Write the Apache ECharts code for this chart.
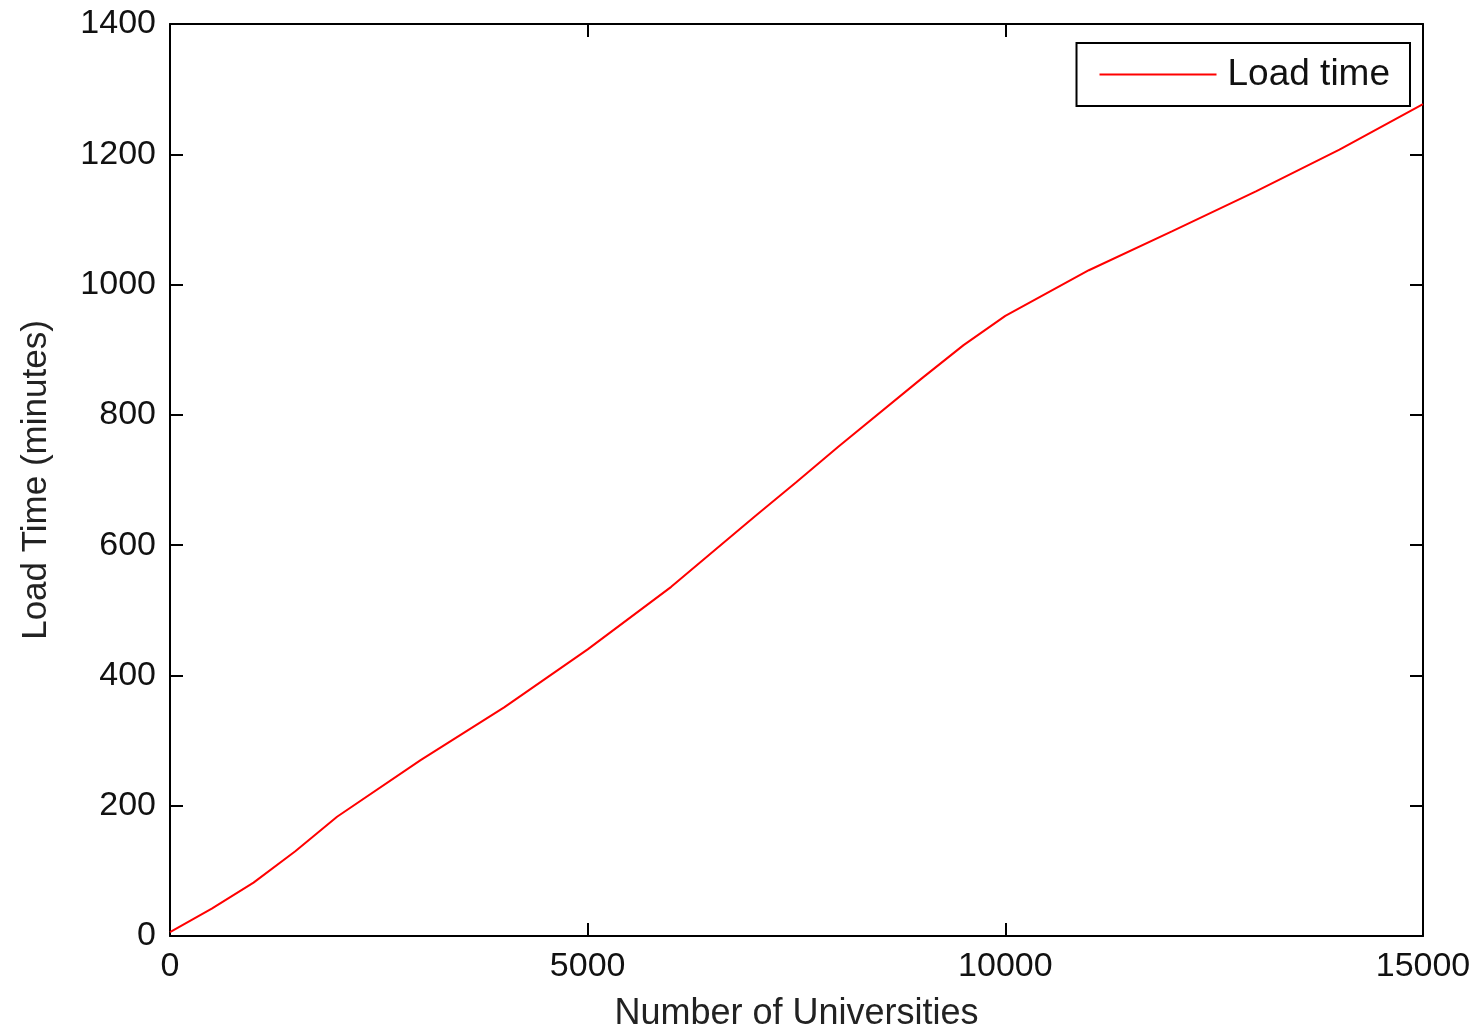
<!DOCTYPE html>
<html>
<head>
<meta charset="utf-8">
<script src="https://cdn.jsdelivr.net/npm/echarts@6/dist/echarts.min.js"></script>
<style>
html,body{margin:0;padding:0;background:#fff;}
#chart{width:1479px;height:1029px;}
</style>
</head>
<body>
<div id="chart"></div>
<script>
const universities = [0, 500, 1000, 1500, 2000, 3000, 4000, 5000, 6000, 7000, 7500, 8000, 9000, 9500, 10000, 11000, 12000, 13000, 14000, 15000];
const loadTime = [6, 42, 82, 130, 183, 270, 351, 440, 536, 644, 697, 751, 856, 907, 952, 1022, 1082, 1143, 1207, 1277];
const seriesName = 'Load time';
const xTitle = 'Number of Universities';
const yTitle = 'Load Time (minutes)';

const chart = echarts.init(document.getElementById('chart'), null, {renderer: 'canvas'});
const font = 'Liberation Sans';
const fs = 34;
const axisLine = {show: true, onZero: false, lineStyle: {color: '#000', width: 2}};
const tick = {show: true, inside: true, length: 13, lineStyle: {color: '#000', width: 2}};
const plain = v => String(v);

chart.setOption({
  animation: false,
  backgroundColor: '#fff',
  grid: {left: 170, right: 56, top: 24, bottom: 93, containLabel: false, outerBoundsMode: 'none'},
  legend: {
    show: true,
    right: 69, top: 43,
    data: [seriesName],
    icon: 'rect',
    itemWidth: 117, itemHeight: 2,
    borderColor: '#000', borderWidth: 2, borderRadius: 0,
    padding: [13, 20, 13, 23],
    textStyle: {fontFamily: font, fontSize: 37, color: '#111', padding: [0, 0, 0, 6]}
  },
  xAxis: [{
    type: 'value', min: 0, max: 15000, interval: 5000, position: 'bottom',
    name: xTitle, nameLocation: 'middle', nameGap: 60,
    nameTextStyle: {fontFamily: font, fontSize: 36, color: '#222'},
    axisLine: axisLine, axisTick: tick,
    axisLabel: {fontFamily: font, fontSize: fs, color: '#111', margin: 14, formatter: plain},
    splitLine: {show: false}
  }, {
    type: 'value', min: 0, max: 15000, interval: 5000, position: 'top',
    axisLine: axisLine, axisTick: tick, axisLabel: {show: false}, splitLine: {show: false}
  }],
  yAxis: [{
    type: 'value', min: 0, max: 1400, interval: 200, position: 'left',
    name: yTitle, nameLocation: 'middle', nameGap: 116, nameRotate: 90,
    nameTextStyle: {fontFamily: font, fontSize: 35, color: '#222'},
    axisLine: axisLine, axisTick: tick,
    axisLabel: {fontFamily: font, fontSize: fs, color: '#111', margin: 14, formatter: plain},
    splitLine: {show: false}
  }, {
    type: 'value', min: 0, max: 1400, interval: 200, position: 'right',
    axisLine: axisLine, axisTick: tick, axisLabel: {show: false}, splitLine: {show: false}
  }],
  series: [{
    name: seriesName,
    type: 'line',
    xAxisIndex: 0, yAxisIndex: 0,
    data: universities.map((u, i) => [u, loadTime[i]]),
    showSymbol: false,
    symbol: 'none',
    color: '#ff0000',
    lineStyle: {color: '#ff0000', width: 2},
    z: 1
  }]
});
</script>
</body>
</html>
